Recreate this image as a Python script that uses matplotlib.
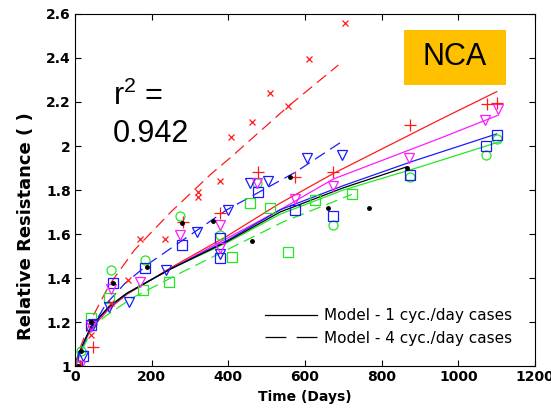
import matplotlib.pyplot as plt
from matplotlib.patches import Rectangle
from matplotlib.lines import Line2D
from matplotlib.ticker import FuncFormatter, MultipleLocator

plt.rcParams['font.family'] = ['DejaVu Sans']
plt.rcParams['mathtext.fontset'] = 'custom'
plt.rcParams['mathtext.rm'] = 'Liberation Sans'
plt.rcParams['lines.scale_dashes'] = False

RED = '#ff1a1a'
MAG = '#ff1aff'
BLUE = '#1a1aff'
GREEN = '#22e822'

# ---- measured cases, 1 cyc./day ----
red_t = [0, 12, 46, 283, 378, 478, 574, 673, 874, 1074, 1100]
red_y = [1.0, 1.0, 1.088, 1.656, 1.694, 1.88, 1.86, 1.883, 2.095, 2.19, 2.197]

mag_t = [2, 14, 42, 94, 170, 274, 378, 378, 474, 574, 674, 872, 1070, 1104]
mag_y = [1.0, 1.0, 1.18, 1.35, 1.38, 1.595, 1.64, 1.535, 1.83, 1.76, 1.82, 1.944, 2.118, 2.167]

bsq_t = [4, 20, 42, 98, 183, 278, 378, 378, 478, 574, 674, 874, 1071, 1100]
bsq_y = [1.0, 1.045, 1.186, 1.376, 1.444, 1.55, 1.58, 1.49, 1.79, 1.71, 1.68, 1.87, 2.0, 2.05]

gci_t = [6, 16, 94, 183, 274, 378, 474, 674, 874, 1071, 1102]
gci_y = [1.0, 1.07, 1.436, 1.48, 1.68, 1.595, 1.83, 1.64, 1.86, 1.96, 2.03]

blk_t = [8, 16, 42, 98, 187, 278, 361, 461, 561, 661, 768, 865]
blk_y = [1.0, 1.07, 1.2, 1.376, 1.45, 1.65, 1.66, 1.57, 1.86, 1.72, 1.72, 1.90]

# ---- measured cases, 4 cyc./day ----
rx_t = [10, 42, 94, 137, 170, 235, 322, 322, 378, 406, 461, 509, 556, 610, 704]
rx_y = [1.0, 1.14, 1.285, 1.39, 1.576, 1.576, 1.79, 1.77, 1.84, 2.04, 2.11, 2.24, 2.18, 2.395, 2.56]

bv_t = [20, 46, 89, 142, 237, 318, 378, 398, 457, 504, 604, 696]
bv_y = [1.045, 1.19, 1.27, 1.29, 1.436, 1.61, 1.51, 1.71, 1.83, 1.84, 1.944, 1.96]

gsq_t = [0, 42, 90, 177, 244, 409, 457, 509, 556, 626, 722]
gsq_y = [1.0, 1.22, 1.31, 1.345, 1.38, 1.497, 1.74, 1.72, 1.52, 1.755, 1.78]

# ---- model curves ----
m_red_t = [0, 5, 16, 42, 89, 135, 248, 396, 535, 674, 952, 1100]
m_red_y = [1.0, 1.03, 1.075, 1.17, 1.26, 1.325, 1.445, 1.59, 1.74, 1.875, 2.12, 2.247]
m_mag_t = [0, 5, 16, 42, 89, 135, 248, 396, 535, 674, 952, 1104]
m_mag_y = [1.0, 1.03, 1.075, 1.175, 1.265, 1.33, 1.44, 1.58, 1.71, 1.85, 2.035, 2.14]
m_blue_t = [0, 5, 16, 42, 89, 135, 248, 396, 535, 700, 880, 1100]
m_blue_y = [1.0, 1.03, 1.08, 1.18, 1.27, 1.33, 1.44, 1.57, 1.71, 1.82, 1.93, 2.055]
m_grn_t = [0, 5, 16, 42, 89, 135, 248, 396, 535, 700, 900, 1109]
m_grn_y = [1.0, 1.03, 1.08, 1.18, 1.27, 1.33, 1.44, 1.56, 1.69, 1.80, 1.905, 2.02]
m_blk_t = [0, 5, 16, 42, 89, 135, 248, 396, 535, 700, 865]
m_blk_y = [1.0, 1.03, 1.08, 1.18, 1.27, 1.33, 1.44, 1.565, 1.70, 1.81, 1.905]

d_red_t = [0, 15, 42, 90, 155, 250, 357, 404, 556, 687]
d_red_y = [1.0, 1.09, 1.21, 1.37, 1.527, 1.70, 1.876, 1.945, 2.18, 2.368]
d_blue_t = [0, 15, 40, 80, 130, 196, 396, 574, 696]
d_blue_y = [1.0, 1.07, 1.16, 1.28, 1.375, 1.47, 1.71, 1.88, 2.02]
d_grn_t = [0, 15, 40, 74, 150, 283, 543, 722]
d_grn_y = [1.0, 1.06, 1.15, 1.22, 1.31, 1.43, 1.655, 1.78]

fig = plt.figure(figsize=(5.51, 4.08), dpi=100)
ax = fig.add_axes([0.1361, 0.1029, 0.8349, 0.8628])

dash = (0, (8.5, 4.5))
lw = 0.9
ax.plot(m_red_t, m_red_y, color=RED, lw=lw)
ax.plot(m_mag_t, m_mag_y, color=MAG, lw=lw)
ax.plot(m_grn_t, m_grn_y, color=GREEN, lw=lw)
ax.plot(m_blue_t, m_blue_y, color=BLUE, lw=lw)
ax.plot(m_blk_t, m_blk_y, color='k', lw=lw)
ax.plot(d_red_t, d_red_y, color=RED, lw=lw, ls=dash)
ax.plot(d_blue_t, d_blue_y, color=BLUE, lw=lw, ls=dash)
ax.plot(d_grn_t, d_grn_y, color=GREEN, lw=lw, ls=dash)

mk = dict(ls='none', mfc='none', mew=0.9)
ax.plot(gsq_t, gsq_y, marker='s', ms=6.5, mec=GREEN, **mk)
ax.plot(gci_t, gci_y, marker='o', ms=6.5, mec=GREEN, **mk)
ax.plot(bsq_t, bsq_y, marker='s', ms=6.5, mec=BLUE, **mk)
ax.plot(bv_t, bv_y, marker='v', ms=7.5, mec=BLUE, **mk)
ax.plot(mag_t, mag_y, marker='v', ms=7.5, mec=MAG, **mk)
ax.plot(rx_t, rx_y, marker='x', ms=4.5, mec=RED, **mk)
ax.plot(red_t, red_y, marker='+', ms=8, mec=RED, **mk)
ax.plot(blk_t, blk_y, ls='none', marker='.', ms=5, color='k')

ax.set_xlim(0, 1200)
ax.set_ylim(1, 2.6)
ax.xaxis.set_major_locator(MultipleLocator(200))
ax.yaxis.set_major_locator(MultipleLocator(0.2))
ax.yaxis.set_major_formatter(FuncFormatter(lambda v, p: '%g' % round(v, 2)))
ax.tick_params(direction='in', top=True, right=True, length=4, width=0.8,
               labelsize=10, pad=3)
for lab in ax.get_xticklabels() + ax.get_yticklabels():
    lab.set_fontweight('bold')
for s in ax.spines.values():
    s.set_linewidth(0.8)

ax.set_xlabel('Time (Days)', fontsize=10, fontweight='bold', labelpad=4)
ax.set_ylabel('Relative Resistance ( )', fontsize=13, fontweight='bold')
ax.yaxis.set_label_coords(-0.087, 0.398)

ax.text(0.083, 0.742, r'r$^{\mathregular{2}}$ =', transform=ax.transAxes, fontsize=22,
        family='Liberation Sans')
ax.text(0.083, 0.637, '0.942', transform=ax.transAxes, fontsize=22,
        family='Liberation Sans')

ax.add_patch(Rectangle((0.715, 0.798), 0.222, 0.157, transform=ax.transAxes,
                       facecolor='#ffc000', edgecolor='none', zorder=5))
ax.text(0.826, 0.877, 'NCA', transform=ax.transAxes, fontsize=22,
        family='Liberation Sans', ha='center', va='center', zorder=6)

handles = [Line2D([], [], color='k', lw=lw),
           Line2D([], [], color='k', lw=lw, ls=(0, (15, 7.4)))]
ax.legend(handles, ['Model - 1 cyc./day cases', 'Model - 4 cyc./day cases'],
          loc='upper left', bbox_to_anchor=(0.413, 0.165), frameon=False,
          fontsize=11, handlelength=3.4, handletextpad=0.45,
          borderpad=0, borderaxespad=0, labelspacing=0.5)

fig.savefig('out.png', dpi=100)
